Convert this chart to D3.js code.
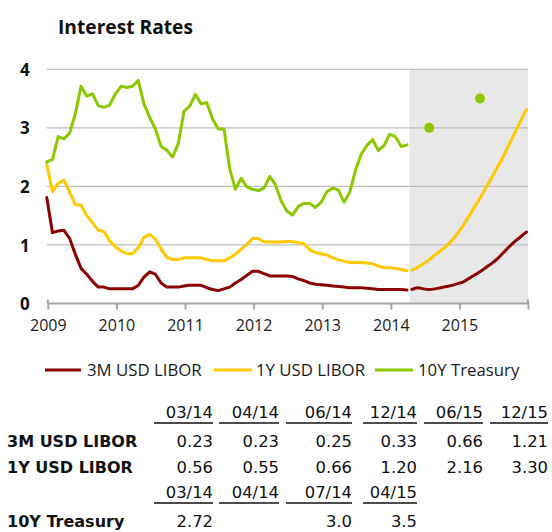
<!DOCTYPE html>
<html>
<head>
<meta charset="utf-8">
<script src="https://cdn.jsdelivr.net/npm/d3@7"></script>
<style>
  html, body { margin: 0; padding: 0; background: #fff; }
  svg { display: block; }
</style>
</head>
<body>
<svg id="chart" width="552" height="532"></svg>
<script>
// ---------------- DATA ----------------
const seriesNames = ["3M USD LIBOR", "1Y USD LIBOR", "10Y Treasury"];
const seriesColors = ["#8B0000", "#FFC800", "#8CC800"];

// monthly history, first value = end Dec 2008, last = end Mar 2014
const historyStartYear = 2008.985;
const libor3mHistory = [
  1.81, 1.21, 1.24, 1.25, 1.11, 0.84, 0.60, 0.50, 0.38, 0.28, 0.28, 0.25,
  0.25, 0.25, 0.25, 0.25, 0.31, 0.45, 0.54, 0.50, 0.35, 0.28, 0.28, 0.28,
  0.30, 0.31, 0.31, 0.31, 0.27, 0.24, 0.22, 0.25, 0.28, 0.35, 0.41, 0.48,
  0.55, 0.55, 0.51, 0.47, 0.47, 0.47, 0.47, 0.46, 0.42, 0.39, 0.35, 0.33,
  0.32, 0.31, 0.30, 0.29, 0.28, 0.27, 0.27, 0.27, 0.26, 0.25, 0.24, 0.24,
  0.24, 0.24, 0.24, 0.23
];
const libor1yHistory = [
  2.38, 1.91, 2.05, 2.11, 1.90, 1.69, 1.68, 1.50, 1.38, 1.25, 1.23, 1.07,
  0.97, 0.90, 0.85, 0.85, 0.95, 1.13, 1.18, 1.10, 0.93, 0.79, 0.75, 0.75,
  0.78, 0.78, 0.78, 0.78, 0.75, 0.73, 0.73, 0.73, 0.78, 0.84, 0.93, 1.01,
  1.11, 1.11, 1.05, 1.05, 1.05, 1.05, 1.06, 1.06, 1.04, 1.02, 0.92, 0.87,
  0.85, 0.83, 0.78, 0.75, 0.72, 0.70, 0.70, 0.70, 0.69, 0.68, 0.64, 0.61,
  0.61, 0.60, 0.58, 0.56
];
const treasury10yHistory = [
  2.42, 2.46, 2.85, 2.81, 2.91, 3.24, 3.71, 3.54, 3.58, 3.38, 3.35, 3.39,
  3.58, 3.71, 3.69, 3.71, 3.81, 3.41, 3.18, 2.98, 2.68, 2.62, 2.50, 2.73,
  3.28, 3.37, 3.57, 3.41, 3.43, 3.15, 2.98, 2.98, 2.30, 1.95, 2.14, 1.99,
  1.95, 1.93, 1.97, 2.17, 2.03, 1.75, 1.58, 1.51, 1.66, 1.71, 1.71, 1.64,
  1.73, 1.91, 1.97, 1.94, 1.73, 1.90, 2.27, 2.55, 2.70, 2.80, 2.61, 2.70,
  2.89, 2.85, 2.68, 2.71
];

// monthly forecast, Apr 2014 .. Dec 2015
const forecastStartYear = 2014.31;
const libor3mForecast = [
  0.24, 0.27, 0.25, 0.24, 0.25, 0.27, 0.29, 0.31, 0.34,
  0.37, 0.43, 0.49, 0.55, 0.62, 0.69, 0.77, 0.87, 0.97, 1.06, 1.14, 1.22
];
const libor1yForecast = [
  0.57, 0.62, 0.68, 0.75, 0.83, 0.90, 0.98, 1.08, 1.20,
  1.34, 1.50, 1.66, 1.82, 1.99, 2.16, 2.34, 2.52, 2.72, 2.92, 3.12, 3.31
];
// 10Y Treasury forecast points (Jul 2014, Apr 2015)
const treasuryForecastYears = [2014.56, 2015.30];
const treasuryForecastValues = [3.0, 3.5];

const forecastShadeStart = 2014.27;
const xDomain = [2009, 2016];
const yDomain = [0, 4];
const yTicks = [0, 1, 2, 3, 4];
const xTicks = [2009, 2010, 2011, 2012, 2013, 2014, 2015, 2016];
const xTickLabels = ["2009", "2010", "2011", "2012", "2013", "2014", "2015", ""];

// table
const tableHeader1 = ["03/14", "04/14", "06/14", "12/14", "06/15", "12/15"];
const tableLibor3m = ["0.23", "0.23", "0.25", "0.33", "0.66", "1.21"];
const tableLibor1y = ["0.56", "0.55", "0.66", "1.20", "2.16", "3.30"];
const tableHeader2 = ["03/14", "04/14", "07/14", "04/15"];
const tableTreasury = ["2.72", "", "3.0", "3.5"];

// ---------------- LAYOUT ----------------
const svg = d3.select("#chart");
const plot = { left: 47.8, right: 528, top: 69.3, bottom: 303.5 };
const x = d3.scaleLinear().domain(xDomain).range([plot.left, plot.right]);
const y = d3.scaleLinear().domain(yDomain).range([plot.bottom, plot.top]);

const chartFont = "'Open Sans', 'Noto Sans', sans-serif";
const tableFont = "'DejaVu Sans', Verdana, sans-serif";

// title
svg.append("text")
  .attr("x", 58).attr("y", 34)
  .attr("font-family", chartFont).attr("font-weight", 700).attr("font-size", 19.2)
  .attr("fill", "#111")
  .text("Interest Rates");

// shaded forecast area
svg.append("rect")
  .attr("x", x(forecastShadeStart)).attr("y", y(4))
  .attr("width", x(2016) - x(forecastShadeStart))
  .attr("height", y(0) - y(4))
  .attr("fill", "#E8E8E8");

// gridlines
svg.append("g")
  .selectAll("line").data(yTicks.filter(d => d > 0)).join("line")
  .attr("x1", plot.left - 1).attr("x2", plot.right)
  .attr("y1", d => y(d)).attr("y2", d => y(d))
  .attr("stroke", "#BEBEBE").attr("stroke-width", 1.3);

// y axis labels
const yAxis = d3.axisLeft(y).tickValues(yTicks).tickFormat(d3.format("d")).tickSize(0).tickPadding(0);
const gy = svg.append("g").attr("transform", `translate(${plot.left - 18},0)`).call(yAxis);
gy.select(".domain").remove();
gy.selectAll("text")
  .attr("font-family", chartFont).attr("font-weight", 700).attr("font-size", 17)
  .attr("fill", "#111").attr("dy", "0.36em");

// x axis
const xAxis = d3.axisBottom(x).tickValues(xTicks).tickFormat((d, i) => xTickLabels[i])
  .tickSizeInner(6).tickSizeOuter(0).tickPadding(10);
const gx = svg.append("g").attr("transform", `translate(0,${plot.bottom})`).call(xAxis);
gx.select(".domain").attr("stroke", "#A6A6A6").attr("stroke-width", 2)
  .attr("d", `M${plot.left},-4V0H${plot.right}V-4`);
gx.selectAll(".tick line").attr("stroke", "#A6A6A6").attr("stroke-width", 2);
gx.selectAll("text")
  .attr("font-family", chartFont).attr("font-size", 16).attr("fill", "#1a1a1a");

// lines
const line = d3.line().x(d => x(d[0])).y(d => y(d[1])).curve(d3.curveLinear);
const smooth = d3.line().x(d => x(d[0])).y(d => y(d[1])).curve(d3.curveMonotoneX);
const histPts = arr => arr.map((v, i) => [historyStartYear + i / 12, v]);
const fcPts = arr => arr.map((v, i) => [forecastStartYear + i / 12, v]);

const histSeries = [libor3mHistory, libor1yHistory, treasury10yHistory];
const fcSeries = [libor3mForecast, libor1yForecast];

const gl = svg.append("g").attr("fill", "none").attr("stroke-width", 3)
  .attr("stroke-linejoin", "round").attr("stroke-linecap", "round");
histSeries.forEach((s, k) => {
  gl.append("path").attr("d", line(histPts(s))).attr("stroke", seriesColors[k]);
});
fcSeries.forEach((s, k) => {
  gl.append("path").attr("d", smooth(fcPts(s))).attr("stroke", seriesColors[k]);
});

svg.append("g").selectAll("circle")
  .data(treasuryForecastYears.map((yr, i) => [yr, treasuryForecastValues[i]]))
  .join("circle")
  .attr("cx", d => x(d[0])).attr("cy", d => y(d[1])).attr("r", 5)
  .attr("fill", seriesColors[2]);

// legend
const legendItems = [
  { name: seriesNames[0], color: seriesColors[0], x0: 45, x1: 81, tx: 87 },
  { name: seriesNames[1], color: seriesColors[1], x0: 214, x1: 252, tx: 256 },
  { name: seriesNames[2], color: seriesColors[2], x0: 375, x1: 413, tx: 418 }
];
const lg = svg.append("g");
legendItems.forEach(it => {
  lg.append("line").attr("x1", it.x0).attr("x2", it.x1).attr("y1", 370).attr("y2", 370)
    .attr("stroke", it.color).attr("stroke-width", 3);
  lg.append("text").attr("x", it.tx).attr("y", 370).attr("dy", "0.35em")
    .attr("font-family", chartFont).attr("font-size", 16.8).attr("fill", "#1a1a1a")
    .text(it.name);
});

// table
const colRight = [213, 279, 352, 417, 483, 548];
const colLineLeft = [154, 219, 286, 363, 424, 490];
const tg = svg.append("g").attr("font-family", tableFont).attr("fill", "#111");

function headerRow(labels, baseY) {
  labels.forEach((t, i) => {
    tg.append("text").attr("x", colRight[i]).attr("y", baseY)
      .attr("text-anchor", "end").attr("font-size", 16.4).text(t);
    tg.append("line").attr("x1", colLineLeft[i]).attr("x2", colRight[i])
      .attr("y1", baseY + 5).attr("y2", baseY + 5)
      .attr("stroke", "#111").attr("stroke-width", 1.5);
  });
}
function valueRow(label, vals, baseY) {
  tg.append("text").attr("x", 7).attr("y", baseY)
    .attr("font-size", 16).attr("font-weight", 700).text(label);
  vals.forEach((t, i) => {
    tg.append("text").attr("x", colRight[i]).attr("y", baseY)
      .attr("text-anchor", "end").attr("font-size", 16.4).text(t);
  });
}
headerRow(tableHeader1, 418);
valueRow(seriesNames[0], tableLibor3m, 447);
valueRow(seriesNames[1], tableLibor1y, 473);
headerRow(tableHeader2, 498);
valueRow(seriesNames[2], tableTreasury, 527);
</script>
</body>
</html>
